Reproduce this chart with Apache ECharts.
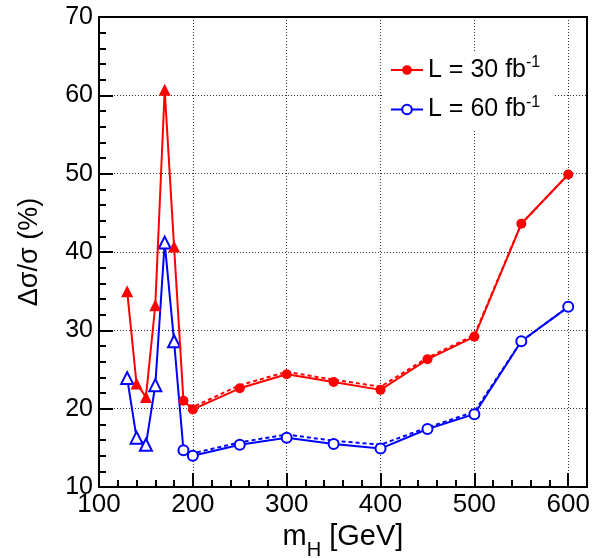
<!DOCTYPE html>
<html>
<head>
<meta charset="utf-8">
<script src="https://cdn.jsdelivr.net/npm/echarts@6.0.0/dist/echarts.min.js"></script>
<style>
  html, body { margin: 0; padding: 0; background: #fff; }
  #chart { width: 592px; height: 558px; }
</style>
</head>
<body>
<div id="chart"></div>
<script>
// Higgs mass points (GeV)
const masses = [130, 140, 150, 160, 170, 180, 190, 200, 250, 300, 350, 400, 450, 500, 550, 600];
// relative cross-section uncertainty (%) for each luminosity
const sigma30 = [35.0, 23.2, 21.5, 33.2, 60.7, 40.7, 21.0, 19.9, 22.6, 24.4, 23.4, 22.4, 26.3, 29.2, 43.6, 49.9];
const sigma60 = [23.9, 16.3, 15.4, 23.0, 41.2, 28.6, 14.7, 14.0, 15.4, 16.3, 15.5, 14.9, 17.4, 19.3, 28.6, 33.0];

// alternative estimate for the high-mass points (dashed curves)
const altMasses = [190, 200, 250, 300, 350, 400, 450, 500, 550, 600];
const alt30 = [21.0, 20.2, 23.0, 24.7, 23.7, 22.8, 26.5, 29.4, 43.6, 49.9];
const alt60 = [14.7, 14.3, 15.7, 16.7, 15.9, 15.4, 17.6, 19.6, 28.6, 33.0];

const xTicks = [100, 200, 300, 400, 500, 600];
const yTicks = [10, 20, 30, 40, 50, 60, 70];

const legend30 = 'L = 30 fb';
const legend60 = 'L = 60 fb';

const FONT = '"Liberation Sans", Arial, Helvetica, sans-serif';
const RED = '#ff0000';
const BLUE = '#0000ff';

const X_RANGE = [100, 620];
const Y_RANGE = [10, 70];
const MAJOR_LEN = 14;
const MINOR_LEN = 7;

// plot frame (pixels from the canvas edges)
const FRAME = { left: 99, right: 5, top: 17, bottom: 71 };

// points below 190 GeV use triangles, the rest circles
function points(ys, filled) {
  return masses.map((m, i) => ({
    value: [m, ys[i]],
    symbol: m < 190 ? (filled ? 'triangle' : 'emptyTriangle') : (filled ? 'circle' : 'emptyCircle'),
    symbolSize: m < 190 ? 12 : 10
  }));
}
function pairs(xs, ys) {
  return xs.map((x, i) => [x, ys[i]]);
}

const chart = echarts.init(document.getElementById('chart'), null, { renderer: 'canvas' });

const blackLine = () => ({ color: '#000', width: 2 });
const gridDots = () => ({ color: '#333', width: 1, type: [1, 2] });

function mkGrid(extra) {
  return Object.assign({ outerBoundsMode: 'none', containLabel: false, show: false }, FRAME, extra || {});
}

// axis that only draws outward ticks (its own grid is inset by the tick
// length, so the ticks end on the frame and point into the plot)
function tickOnlyAxis(gridIndex, range, interval, len) {
  return {
    type: 'value',
    gridIndex: gridIndex,
    min: range[0],
    max: range[1],
    interval: interval,
    axisLine: { show: true, onZero: false, lineStyle: { color: '#000', width: 2, opacity: 0 } },
    axisTick: { show: true, inside: false, length: len, lineStyle: { color: '#000', width: 2 } },
    minorTick: { show: false },
    axisLabel: { show: false },
    splitLine: { show: false }
  };
}
function hiddenAxis(gridIndex) {
  return { type: 'value', gridIndex: gridIndex, show: false, min: 0, max: 1 };
}
// plain frame line for the top and right edges
function frameAxis(pos, range) {
  return {
    type: 'value',
    gridIndex: 0,
    position: pos,
    min: range[0],
    max: range[1],
    axisLine: { show: true, onZero: false, lineStyle: blackLine() },
    axisTick: { show: false },
    minorTick: { show: false },
    axisLabel: { show: false },
    splitLine: { show: false }
  };
}

chart.setOption({
  animation: false,
  backgroundColor: '#fff',
  textStyle: { fontFamily: FONT },
  grid: [
    mkGrid(),                                        // 0: plot
    mkGrid({ bottom: FRAME.bottom + MAJOR_LEN }),    // 1: major x ticks
    mkGrid({ bottom: FRAME.bottom + MINOR_LEN }),    // 2: minor x ticks
    mkGrid({ left: FRAME.left + MAJOR_LEN }),        // 3: major y ticks
    mkGrid({ left: FRAME.left + MINOR_LEN })         // 4: minor y ticks
  ],
  legend: {
    data: [legend30, legend60],
    orient: 'vertical',
    left: 382,
    top: 53,
    backgroundColor: '#fff',
    padding: [2, 14, 8, 8],
    itemWidth: 32,
    itemHeight: 12,
    itemGap: 12,
    z: 20,
    formatter: n => `{a|${n}}{s|-1}`,
    textStyle: {
      rich: {
        a: { fontSize: 25, fontFamily: FONT, color: '#000', lineHeight: 30 },
        s: { fontSize: 16, fontFamily: FONT, color: '#000', verticalAlign: 'top', lineHeight: 18 }
      }
    }
  },
  xAxis: [
    {
      type: 'value',
      gridIndex: 0,
      position: 'bottom',
      min: X_RANGE[0],
      max: X_RANGE[1],
      interval: 100,
      name: '{a|m}{b|H}{a| [GeV]}',
      nameLocation: 'middle',
      nameGap: 30,
      nameTextStyle: {
        rich: {
          a: { fontSize: 29, fontFamily: FONT, color: '#000', lineHeight: 34, verticalAlign: 'top' },
          b: { fontSize: 20, fontFamily: FONT, color: '#000', lineHeight: 20, verticalAlign: 'top', padding: [18, 0, 0, 0] }
        }
      },
      axisLine: { show: true, onZero: false, lineStyle: blackLine() },
      axisTick: { show: false },
      minorTick: { show: false },
      axisLabel: {
        show: true,
        margin: 5,
        fontSize: 26,
        color: '#000',
        fontFamily: FONT,
        showMaxLabel: false,
        formatter: v => (xTicks.includes(v) ? String(v) : '')
      },
      splitLine: { show: true, lineStyle: gridDots() }
    },
    frameAxis('top', X_RANGE),
    tickOnlyAxis(1, X_RANGE, 100, MAJOR_LEN),
    tickOnlyAxis(2, X_RANGE, 20, MINOR_LEN),
    hiddenAxis(3),
    hiddenAxis(4)
  ],
  yAxis: [
    {
      type: 'value',
      gridIndex: 0,
      position: 'left',
      min: Y_RANGE[0],
      max: Y_RANGE[1],
      interval: 10,
      name: 'Δσ/σ (%)',
      nameLocation: 'middle',
      nameGap: 56,
      nameTextStyle: { fontSize: 27, fontFamily: FONT, color: '#000' },
      axisLine: { show: true, onZero: false, lineStyle: blackLine() },
      axisTick: { show: false },
      minorTick: { show: false },
      axisLabel: {
        margin: 6,
        fontSize: 25,
        color: '#000',
        fontFamily: FONT,
        formatter: v => (yTicks.includes(v) ? String(v) : '')
      },
      splitLine: { show: true, lineStyle: gridDots() }
    },
    frameAxis('right', Y_RANGE),
    hiddenAxis(1),
    hiddenAxis(2),
    tickOnlyAxis(3, Y_RANGE, 10, MAJOR_LEN),
    tickOnlyAxis(4, Y_RANGE, 2, MINOR_LEN)
  ],
  series: [
    {
      name: 'alt60',
      type: 'line',
      xAxisIndex: 0,
      yAxisIndex: 0,
      data: pairs(altMasses, alt60),
      symbol: 'none',
      lineStyle: { color: BLUE, width: 2, type: [4, 3] },
      z: 2
    },
    {
      name: legend60,
      type: 'line',
      xAxisIndex: 0,
      yAxisIndex: 0,
      data: points(sigma60, false),
      symbol: 'emptyCircle',
      symbolSize: 10,
      color: BLUE,
      itemStyle: { color: BLUE, borderWidth: 1.5 },
      lineStyle: { color: BLUE, width: 2 },
      z: 3
    },
    {
      name: 'alt30',
      type: 'line',
      xAxisIndex: 0,
      yAxisIndex: 0,
      data: pairs(altMasses, alt30),
      symbol: 'none',
      lineStyle: { color: RED, width: 2, type: [4, 3] },
      z: 4
    },
    {
      name: legend30,
      type: 'line',
      xAxisIndex: 0,
      yAxisIndex: 0,
      data: points(sigma30, true),
      symbol: 'circle',
      symbolSize: 10,
      color: RED,
      itemStyle: { color: RED },
      lineStyle: { color: RED, width: 2 },
      z: 5
    }
  ]
});
</script>
</body>
</html>
